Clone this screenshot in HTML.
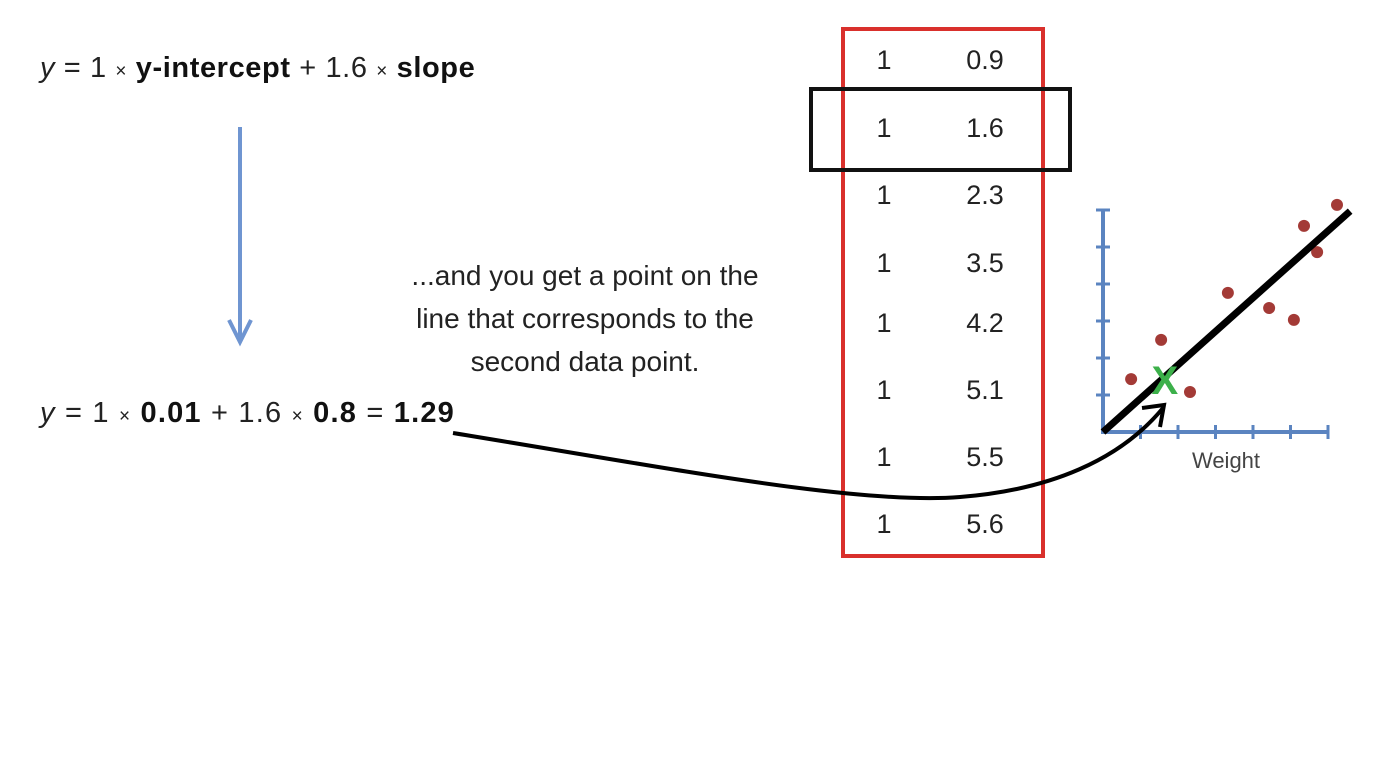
<!DOCTYPE html>
<html><head><meta charset="utf-8"><style>
body{margin:0;background:#fff;width:1392px;height:784px;overflow:hidden;font-family:"Liberation Sans",sans-serif;color:#222}
.t{position:absolute;font-size:29px;white-space:nowrap}
b{color:#111}
</style></head><body>
<div class="t" style="left:40px;top:52px;letter-spacing:0.6px"><i>y</i> = 1 <span style="font-size:19px">×</span> <b>y-intercept</b> + 1.6 <span style="font-size:19px">×</span> <b>slope</b></div>
<div class="t" style="left:40px;top:397px;letter-spacing:1.2px"><i>y</i> = 1 <span style="font-size:19px">×</span> <b>0.01</b> + 1.6 <span style="font-size:19px">×</span> <b>0.8</b> = <b>1.29</b></div>
<div class="t" style="left:370px;top:254px;width:430px;text-align:center;line-height:43px;font-size:28px">...and you get a point on the<br>line that corresponds to the<br>second data point.</div>
<svg width="1392" height="784" style="position:absolute;left:0;top:0">
<g stroke="#6f95d1" stroke-width="4" fill="none">
<line x1="240" y1="127" x2="240" y2="340"/><polyline points="229,320 240,342 251,320"/></g>
<rect x="843" y="29" width="200" height="527" fill="none" stroke="#d9302c" stroke-width="4"/>
<g id="tbl" font-family="Liberation Sans" font-size="27" fill="#222" text-anchor="middle"></g>
<rect x="811" y="89" width="259" height="81" fill="none" stroke="#111" stroke-width="4"/>
<g id="plot"></g>
<path d="M453,433 C680,470 860,505 960,497 C1050,490 1120,460 1163,408" fill="none" stroke="#000" stroke-width="4"/>
<polyline points="1142,408 1164,405 1160,427" fill="none" stroke="#000" stroke-width="4"/>
</svg>
<script>
const col1=["1","1","1","1","1","1","1","1"];
const col2=["0.9","1.6","2.3","3.5","4.2","5.1","5.5","5.6"];
const rowY=[59,127,194,262,322,389,456,523];
const ptX=[0.75,1.55,2.32,3.33,4.43,5.09,5.36,5.71,6.24];
const ptY=[1.43,2.49,1.08,3.76,3.35,3.03,5.57,4.86,6.14];
const lineX=[0,6.59], lineY=[0,5.97];
const markX=1.65, markY=1.4;
const NS="http://www.w3.org/2000/svg";
function mk(p,tag,a){const e=document.createElementNS(NS,tag);for(const k in a)e.setAttribute(k,a[k]);p.appendChild(e);return e;}
const tbl=document.getElementById('tbl');
col1.forEach((v,i)=>{
 const a=mk(tbl,'text',{x:884,y:rowY[i]+10});a.textContent=v;
 
 
 const b=mk(tbl,'text',{x:985,y:rowY[i]+10});b.textContent=col2[i];
 
 
});
const plot=document.getElementById('plot');
const X0=1103,Y0=432,S=37.5,SY=37;
const sx=v=>X0+v*S, sy=v=>Y0-v*SY;
mk(plot,'polyline',{points:`${X0},210 ${X0},${Y0} 1328,${Y0}`,fill:'none',stroke:'#5b84c0','stroke-width':4});
for(let i=1;i<=6;i++){
 mk(plot,'line',{x1:sx(i),x2:sx(i),y1:Y0-7,y2:Y0+7,stroke:'#5b84c0','stroke-width':3});
 mk(plot,'line',{x1:X0-7,x2:X0+7,y1:sy(i),y2:sy(i),stroke:'#5b84c0','stroke-width':3});
}
const lbl=mk(plot,'text',{x:1226,y:468,'font-family':'Liberation Sans','font-size':22,fill:'#444','text-anchor':'middle'});lbl.textContent='Weight';


ptX.forEach((v,i)=>{const c=mk(plot,'circle',{cx:sx(v),cy:sy(ptY[i]),r:6,fill:'#a33a36'});
 
 });
const ln=mk(plot,'line',{x1:sx(lineX[0]),y1:sy(lineY[0]),x2:sx(lineX[1]),y2:sy(lineY[1]),stroke:'#000','stroke-width':7});


const m=mk(plot,'text',{x:sx(markX),y:sy(markY)+14,'font-family':'Liberation Sans','font-weight':'bold','font-size':40,fill:'#3cb04a','text-anchor':'middle'});m.textContent='X';


</script>
</body></html>
